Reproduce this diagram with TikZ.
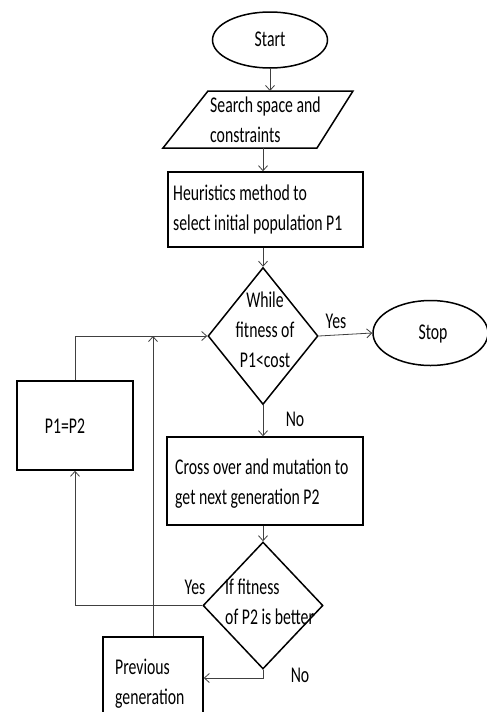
\documentclass[tikz,border=0pt]{standalone}
\usepackage{fontspec}
\setmainfont{Carlito}
\usetikzlibrary{shapes.geometric,arrows.meta}
\newcommand{\sqz}[2][l]{\scalebox{0.7}[1]{\begin{tabular}{@{}#1@{}}#2\end{tabular}}}
\tikzset{
  shp/.style={draw=black, line width=1.5pt, inner sep=0pt},
  boxshape/.style={shp, rectangle},
  oval/.style={shp, ellipse},
  decision/.style={shp, diamond},
  txt/.style={inner sep=0pt, font=\fontsize{22.5}{30}\selectfont},
  conn/.style={draw=black!75, line width=0.8pt, -{Straight Barb[length=5pt,width=9pt]}},
  plain/.style={draw=black!75, line width=0.8pt}
}
\begin{document}
\begin{tikzpicture}[x=1pt,y=-1pt]
\useasboundingbox (0,0) rectangle (487,712);
% shapes
\node[oval, minimum width=115, minimum height=56] (start) at (270,40) {};
\draw[shp, line join=miter] (208,91) -- (353,91) -- (317,148) -- (163,148) -- cycle;
\coordinate (iotop) at (268,91);
\coordinate (iobot) at (263,148);
\node[boxshape, minimum width=195, minimum height=75] (heur) at (265.5,209.5) {};
\node[decision, minimum width=110, minimum height=137] (d1) at (263,336) {};
\node[oval, minimum width=115, minimum height=65] (stop) at (430.5,333) {};
\node[boxshape, minimum width=196, minimum height=88] (cross) at (265,481) {};
\node[decision, minimum width=120, minimum height=127] (d2) at (263,605.5) {};
\node[boxshape, minimum width=116, minimum height=89] (p12) at (75,425.5) {};
\node[boxshape, minimum width=100, minimum height=82] (prev) at (153,678) {};
% texts
\node[txt] (tstart) at (270,40) {\sqz{Start}};
\node[txt, anchor=west] (tio) at (210,121) {\sqz{Search space and\\constraints}};
\node[txt, anchor=west] (theur) at (173,209) {\sqz{Heuristics method to\\select initial population P1}};
\node[txt] (td1) at (265,331) {\sqz[c]{While\\fitness of\\P1<cost}};
\node[txt] (tstop) at (433,333) {\sqz{Stop}};
\node[txt, anchor=west] (tcross) at (175,483) {\sqz{Cross over and mutation to\\get next generation P2}};
\node[txt, anchor=west] (td2) at (225,603) {\sqz{If fitness\\of P2 is better}};
\node[txt] (tp12) at (65,427) {\sqz{P1=P2}};
\node[txt, anchor=west] (tprev) at (115,683) {\sqz{Previous\\generation}};
% labels
\node[txt] (lyes1) at (336,322) {\sqz{Yes}};
\node[txt] (lno1) at (295,420) {\sqz{No}};
\node[txt] (lyes2) at (195,588) {\sqz{Yes}};
\node[txt] (lno2) at (300,676) {\sqz{No}};
% connectors
\draw[conn] (start.south) -- (start.south |- iotop);
\draw[conn] (iobot) -- (iobot |- heur.north);
\draw[conn] (heur.south -| d1.north) -- (d1.north);
\draw[conn] (d1.east) -- (stop.west);
\draw[conn] (d1.south) -- (cross.north -| d1.south);
\draw[conn] (cross.south -| d2.north) -- (d2.north);
\draw[conn] (d2.west) -| (p12.south);
\draw[conn] (p12.north) |- (d1.west);
\draw[conn] (d2.south) |- (prev.east);
\coordinate (join) at (prev.north |- d1.west);
\draw[conn] (prev.north) -- (join);
\end{tikzpicture}
\end{document}
